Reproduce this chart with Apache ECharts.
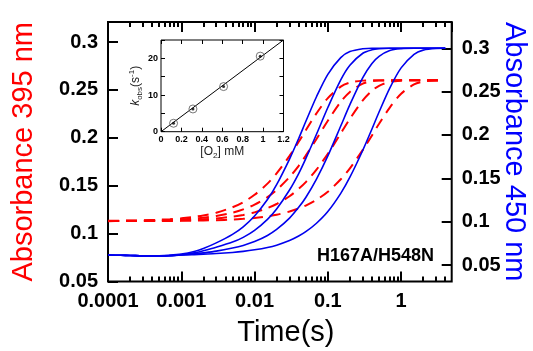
<!DOCTYPE html>
<html><head><meta charset="utf-8">
<script src="https://cdn.jsdelivr.net/npm/echarts@6/dist/echarts.min.js"></script>
<style>html,body{margin:0;padding:0;background:#fff}#c{width:533px;height:351px}</style>
</head><body><div id="c"></div>
<script>
// ---- data ----
const T = [0.0001, 0.00015, 0.0002, 0.0003, 0.0005, 0.0007, 0.001, 0.0015, 0.002, 0.003, 0.005, 0.007, 0.01, 0.015, 0.02, 0.03, 0.04, 0.05, 0.07, 0.1, 0.15, 0.2, 0.3, 0.4, 0.5, 0.7, 1, 1.5, 2, 3, 4];

const blue1 = [0.0615, 0.0612, 0.0610, 0.0605, 0.0606, 0.0612, 0.0625, 0.0655, 0.0690, 0.0755, 0.0854, 0.0941, 0.1065, 0.1255, 0.1427, 0.1722, 0.1960, 0.2155, 0.2441, 0.2700, 0.2893, 0.2962, 0.2995, 0.3, 0.3, 0.3, 0.3, 0.3, 0.3, 0.3, 0.3];
const blue2 = [0.0615, 0.0612, 0.0610, 0.0605, 0.0604, 0.0608, 0.0618, 0.0640, 0.0665, 0.0705, 0.0764, 0.0819, 0.0900, 0.1027, 0.1146, 0.1365, 0.1555, 0.1727, 0.2008, 0.2317, 0.2636, 0.2805, 0.2943, 0.2983, 0.2995, 0.3, 0.3, 0.3, 0.3, 0.3, 0.3];
const blue3 = [0.0615, 0.0612, 0.0610, 0.0605, 0.0604, 0.0608, 0.0615, 0.0628, 0.0640, 0.0660, 0.0696, 0.0726, 0.0770, 0.0841, 0.0910, 0.1041, 0.1165, 0.1279, 0.1491, 0.1758, 0.2103, 0.2350, 0.2662, 0.2824, 0.2907, 0.2974, 0.2995, 0.3, 0.3, 0.3, 0.3];
const blue4 = [0.0615, 0.0612, 0.0610, 0.0605, 0.0604, 0.0608, 0.0615, 0.0620, 0.0625, 0.0632, 0.0645, 0.0657, 0.0675, 0.0702, 0.0729, 0.0782, 0.0834, 0.0884, 0.0982, 0.1117, 0.1327, 0.1513, 0.1824, 0.2069, 0.2265, 0.2541, 0.2774, 0.2931, 0.2979, 0.2998, 0.3];

const red1 = [0.1133, 0.1135, 0.1136, 0.1139, 0.1145, 0.1151, 0.1160, 0.1175, 0.1190, 0.1218, 0.1275, 0.1328, 0.1405, 0.1522, 0.1628, 0.1811, 0.1958, 0.2078, 0.2255, 0.2415, 0.2534, 0.2576, 0.2597, 0.26, 0.26, 0.26, 0.26, 0.26, 0.26, 0.26, 0.26];
const red2 = [0.1132, 0.1133, 0.1134, 0.1135, 0.1139, 0.1143, 0.1148, 0.1157, 0.1166, 0.1184, 0.1219, 0.1253, 0.1303, 0.1381, 0.1455, 0.1590, 0.1708, 0.1814, 0.1987, 0.2178, 0.2375, 0.2479, 0.2565, 0.2590, 0.2597, 0.26, 0.26, 0.26, 0.26, 0.26, 0.26];
const red3 = [0.1131, 0.1131, 0.1132, 0.1133, 0.1135, 0.1137, 0.1140, 0.1144, 0.1149, 0.1158, 0.1177, 0.1195, 0.1222, 0.1267, 0.1309, 0.1390, 0.1467, 0.1537, 0.1668, 0.1833, 0.2046, 0.2199, 0.2391, 0.2491, 0.2543, 0.2584, 0.2597, 0.26, 0.26, 0.26, 0.26];
const red4 = [0.1130, 0.1131, 0.1131, 0.1131, 0.1132, 0.1132, 0.1133, 0.1135, 0.1137, 0.1140, 0.1147, 0.1154, 0.1164, 0.1181, 0.1197, 0.1230, 0.1262, 0.1293, 0.1353, 0.1437, 0.1567, 0.1681, 0.1874, 0.2025, 0.2146, 0.2316, 0.2460, 0.2557, 0.2587, 0.2599, 0.26];

// inset: k_obs vs [O2]
const o2 = [0.123, 0.313, 0.613, 0.972];
const kobs = [2.3, 6.2, 12.3, 20.6];
const fitX = [0, 1.2];
const fitY = [0, 25];

const xTickLabels = ['0.0001', '0.001', '0.01', '0.1', '1'];
const sampleLabel = 'H167A/H548N';

// ---- chart ----
const FONT = '"Liberation Sans", Arial, sans-serif';
const XMIN = 0.0001, XMAX = 4.9;
const LEFT_MIN = 0.05, LEFT_MAX = 0.3209;

const minorLog = [];
for (let e = -4; e <= 0; e++) {
  for (let m = 2; m <= 9; m++) {
    const v = m * Math.pow(10, e);
    if (v <= XMAX) minorLog.push(Math.log10(v));
  }
}

const zip = (xs, ys) => xs.map((x, i) => [x, ys[i]]);
const tickStyle = { color: '#000', width: 2 };
const labelStyle = { fontFamily: FONT, fontWeight: 'bold', fontSize: 20, color: '#000' };
const insetLabel = { fontFamily: FONT, fontWeight: 'bold', fontSize: 9, color: '#000' };
const noAxisBits = { axisLine: { show: false, onZero: false }, splitLine: { show: false } };
const bigTick = { show: true, inside: true, length: 10, lineStyle: tickStyle };
const smallTick = { show: true, inside: true, length: 5, lineStyle: tickStyle };
const insetTick = { show: true, inside: true, length: 4, lineStyle: { color: '#000', width: 1 } };

const redSeries = [red1, red2, red3, red4].map(d => ({
  type: 'line', xAxisIndex: 0, yAxisIndex: 0, data: zip(T, d), smooth: 0.3,
  showSymbol: false, symbol: 'none', clip: false,
  lineStyle: { color: '#ff0000', width: 2, type: [11, 7] }, z: 3
}));
const blueSeries = [blue1, blue2, blue3, blue4].map(d => ({
  type: 'line', xAxisIndex: 4, yAxisIndex: 2, data: zip(T, d), smooth: 0.3,
  showSymbol: false, symbol: 'none', clip: false,
  lineStyle: { color: '#0000ee', width: 1.6 }, z: 4
}));

const gridBase = { outerBoundsMode: 'none', containLabel: false };

const option = {
  animation: false,
  backgroundColor: '#fff',
  grid: [
    Object.assign({ left: 108, right: 81.3, top: 22, bottom: 69.5, show: true, borderColor: '#000', borderWidth: 2, backgroundColor: 'transparent' }, gridBase),
    Object.assign({ left: 108, right: 81.3, top: 48.3, bottom: 86, show: false }, gridBase),
    Object.assign({ left: 161, right: 249.5, top: 40, bottom: 219.3, show: true, borderColor: '#000', borderWidth: 1, backgroundColor: '#fff' }, gridBase)
  ],
  xAxis: [
    { gridIndex: 0, type: 'log', logBase: 10, min: XMIN, max: XMAX, position: 'bottom', ...noAxisBits,
      axisTick: bigTick,
      axisLabel: Object.assign({ show: true, margin: 10, showMaxLabel: false,
        formatter: v => { const e = Math.round(Math.log10(v)); return Math.abs(Math.log10(v) - e) < 1e-6 && e >= -4 && e <= 0 ? xTickLabels[e + 4] : ''; } }, labelStyle),
      name: 'Time(s)', nameLocation: 'middle', nameGap: 37,
      nameTextStyle: { fontFamily: FONT, fontSize: 29, color: '#000', padding: [0, 0, 0, 12] } },
    { gridIndex: 0, type: 'log', logBase: 10, min: XMIN, max: XMAX, position: 'top', ...noAxisBits,
      axisTick: bigTick, axisLabel: { show: false } },
    { gridIndex: 0, type: 'value', min: -4, max: Math.log10(XMAX), position: 'bottom', ...noAxisBits,
      axisTick: Object.assign({ customValues: minorLog }, smallTick), axisLabel: { show: false } },
    { gridIndex: 0, type: 'value', min: -4, max: Math.log10(XMAX), position: 'top', ...noAxisBits,
      axisTick: Object.assign({ customValues: minorLog }, smallTick), axisLabel: { show: false } },
    { gridIndex: 1, type: 'log', logBase: 10, min: XMIN, max: XMAX, show: false },
    { gridIndex: 2, type: 'value', min: 0, max: 1.2, interval: 0.2, position: 'bottom', ...noAxisBits,
      axisTick: insetTick,
      axisLabel: Object.assign({ show: true, margin: 3 }, insetLabel),
      name: '{n|[O}{s|2}{n|] mM}', nameLocation: 'middle', nameGap: 12,
      nameTextStyle: { rich: {
        n: { fontFamily: FONT, fontSize: 12, color: '#222', lineHeight: 16, verticalAlign: 'middle' },
        s: { fontFamily: FONT, fontSize: 8, color: '#222', lineHeight: 8, verticalAlign: 'bottom' } } } },
    { gridIndex: 2, type: 'value', min: 0, max: 1.2, interval: 0.2, position: 'top', ...noAxisBits,
      axisTick: insetTick, axisLabel: { show: false } }
  ],
  yAxis: [
    { gridIndex: 0, type: 'value', min: LEFT_MIN, max: LEFT_MAX, interval: 0.05, position: 'left', ...noAxisBits,
      axisTick: bigTick,
      axisLabel: Object.assign({ show: true, margin: 10, showMaxLabel: false }, labelStyle),
      name: 'Absorbance 395 nm', nameLocation: 'middle', nameGap: 70, nameRotate: 90,
      nameTextStyle: { fontFamily: FONT, fontSize: 29, color: '#ff0000' } },
    { gridIndex: 0, type: 'value', min: 0, max: 1, position: 'right', ...noAxisBits,
      axisTick: { show: false }, axisLabel: { show: false },
      name: 'Absorbance 450 nm', nameLocation: 'middle', nameGap: 48, nameRotate: -90,
      nameTextStyle: { fontFamily: FONT, fontSize: 29, color: '#0000ff' } },
    { gridIndex: 1, type: 'value', min: 0.05, max: 0.3, interval: 0.05, position: 'right', ...noAxisBits,
      axisTick: bigTick,
      axisLabel: Object.assign({ show: true, margin: 10 }, labelStyle) },
    { gridIndex: 2, type: 'value', min: 0, max: 25, interval: 5, position: 'left', ...noAxisBits,
      axisTick: insetTick,
      axisLabel: Object.assign({ show: true, margin: 3, formatter: v => (v % 10 === 0 ? String(v) : '') }, insetLabel),
      name: '{k|k}{s|obs}{n|(s}{p|-1}{n|)}', nameLocation: 'middle', nameGap: 17, nameRotate: 90,
      nameTextStyle: { rich: {
        k: { fontFamily: FONT, fontSize: 12, fontStyle: 'italic', color: '#222', lineHeight: 16, verticalAlign: 'middle' },
        n: { fontFamily: FONT, fontSize: 12, color: '#222', lineHeight: 16, verticalAlign: 'middle' },
        s: { fontFamily: FONT, fontSize: 8, color: '#222', lineHeight: 8, verticalAlign: 'bottom' },
        p: { fontFamily: FONT, fontSize: 8, color: '#222', lineHeight: 8, verticalAlign: 'top' } } } },
    { gridIndex: 2, type: 'value', min: 0, max: 25, interval: 5, position: 'right', ...noAxisBits,
      axisTick: insetTick, axisLabel: { show: false } }
  ],
  series: [
    ...redSeries,
    ...blueSeries,
    { type: 'line', xAxisIndex: 5, yAxisIndex: 3, data: zip(fitX, fitY), symbol: 'none', z: 10,
      lineStyle: { color: '#000', width: 1 } },
    { type: 'scatter', xAxisIndex: 5, yAxisIndex: 3, data: zip(o2, kobs), symbol: 'circle', symbolSize: 8, z: 11,
      itemStyle: { color: 'rgba(255,255,255,0)', borderColor: '#555', borderWidth: 1 } },
    { type: 'scatter', xAxisIndex: 5, yAxisIndex: 3, data: zip(o2, kobs), symbol: 'circle', symbolSize: 3, z: 12,
      itemStyle: { color: '#000' } }
  ],
  graphic: [
    { type: 'text', right: 99, top: 247, z: 20,
      style: { text: sampleLabel, fontFamily: FONT, fontWeight: 'bold', fontSize: 18, fill: '#000' } }
  ]
};

const chart = echarts.init(document.getElementById('c'), null, { renderer: 'canvas' });
chart.setOption(option);
</script>
</body></html>
